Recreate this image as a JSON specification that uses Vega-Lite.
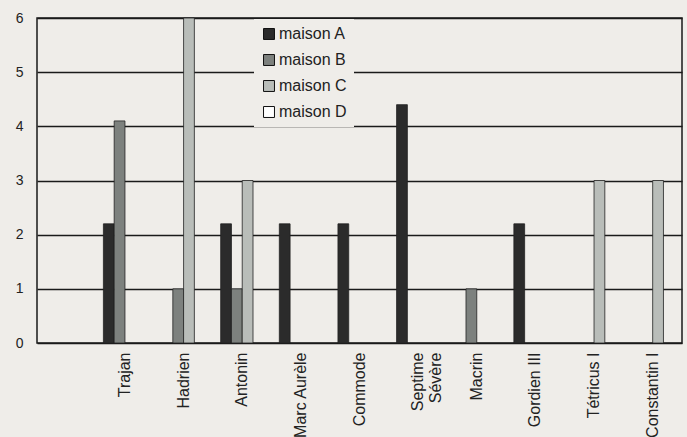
{
  "$schema": "https://vega.github.io/schema/vega-lite/v6.json",
  "width": 645,
  "height": 325,
  "autosize": {"type": "none"},
  "padding": {"left": 37, "top": 18, "right": 5, "bottom": 94},
  "background": "#efede9",
  "config": {
    "view": {"stroke": "#1a1a1a", "strokeWidth": 1.5},
    "font": "Liberation Sans"
  },
  "data": {
    "values": [
      {"empereur": "Trajan", "maison": "maison A", "valeur": 2.2},
      {"empereur": "Trajan", "maison": "maison B", "valeur": 4.1},
      {"empereur": "Hadrien", "maison": "maison B", "valeur": 1},
      {"empereur": "Hadrien", "maison": "maison C", "valeur": 6},
      {"empereur": "Antonin", "maison": "maison A", "valeur": 2.2},
      {"empereur": "Antonin", "maison": "maison B", "valeur": 1},
      {"empereur": "Antonin", "maison": "maison C", "valeur": 3},
      {"empereur": "Marc Aurèle", "maison": "maison A", "valeur": 2.2},
      {"empereur": "Commode", "maison": "maison A", "valeur": 2.2},
      {"empereur": "Septime Sévère", "maison": "maison A", "valeur": 4.4},
      {"empereur": "Macrin", "maison": "maison B", "valeur": 1},
      {"empereur": "Gordien III", "maison": "maison A", "valeur": 2.2},
      {"empereur": "Tétricus I", "maison": "maison C", "valeur": 3},
      {"empereur": "Constantin I", "maison": "maison C", "valeur": 3}
    ]
  },
  "mark": {"type": "bar", "stroke": "#222222", "strokeWidth": 0.8},
  "encoding": {
    "x": {
      "field": "empereur",
      "type": "nominal",
      "scale": {
        "domain": ["", "Trajan", "Hadrien", "Antonin", "Marc Aurèle", "Commode", "Septime Sévère", "Macrin", "Gordien III", "Tétricus I", "Constantin I"],
        "paddingInner": 0.265,
        "paddingOuter": 0.1325
      },
      "axis": {
        "title": null,
        "labelAngle": -90,
        "labelAlign": "right",
        "labelBaseline": "middle",
        "ticks": false,
        "domain": false,
        "grid": false,
        "labelPadding": 9,
        "labelFontSize": 16,
        "labelColor": "#222222",
        "labelLineHeight": 18,
        "labelOverlap": false,
        "labelExpr": "datum.value == 'Septime Sévère' ? ['Septime', 'Sévère'] : datum.label"
      }
    },
    "xOffset": {
      "field": "maison",
      "type": "nominal",
      "scale": {"domain": ["maison A", "maison B", "maison C", "maison D"], "paddingInner": 0, "paddingOuter": 0}
    },
    "y": {
      "field": "valeur",
      "type": "quantitative",
      "scale": {"domain": [0, 6], "nice": false},
      "axis": {
        "values": [0, 1, 2, 3, 4, 5, 6],
        "title": null,
        "grid": true,
        "gridColor": "#1a1a1a",
        "gridWidth": 1.3,
        "ticks": false,
        "domain": false,
        "labelFontSize": 14,
        "labelPadding": 14,
        "labelColor": "#222222"
      }
    },
    "color": {
      "field": "maison",
      "type": "nominal",
      "scale": {
        "domain": ["maison A", "maison B", "maison C", "maison D"],
        "range": ["#2b2b2b", "#7d817e", "#b9bdb9", "#ffffff"]
      },
      "legend": {
        "title": null,
        "orient": "none",
        "legendX": 217,
        "legendY": 1,
        "symbolType": "square",
        "symbolSize": 120,
        "symbolStrokeColor": "#111111",
        "symbolStrokeWidth": 1,
        "labelFontSize": 16,
        "labelColor": "#222222",
        "labelOffset": 2,
        "rowPadding": 10,
        "padding": 7,
        "fillColor": "#efede9"
      }
    }
  }
}
